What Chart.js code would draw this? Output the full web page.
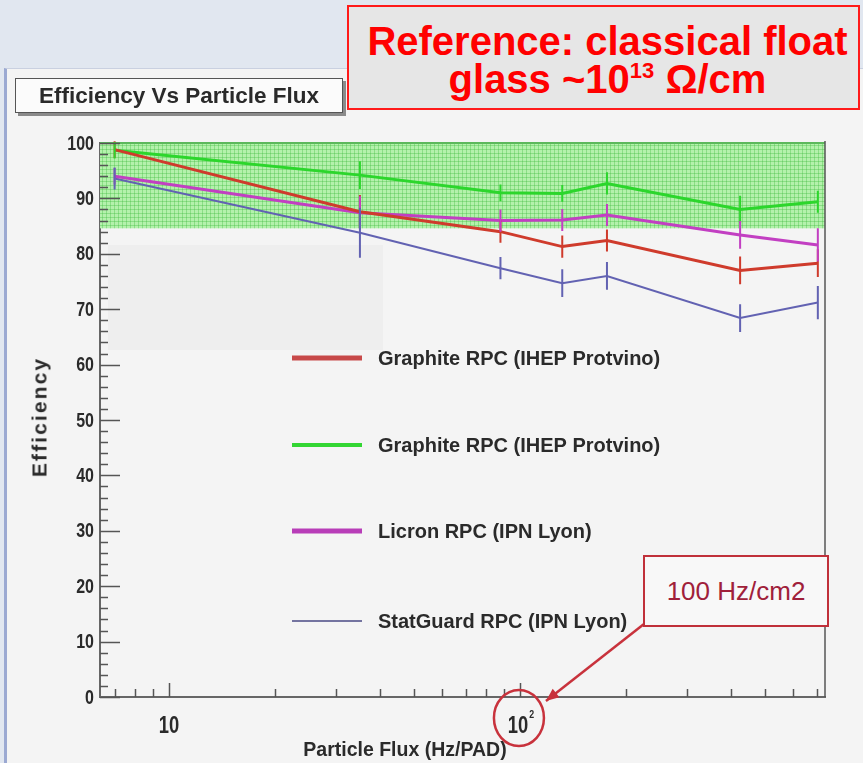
<!DOCTYPE html>
<html>
<head>
<meta charset="utf-8">
<script src="https://cdn.jsdelivr.net/npm/chart.js@4.4.1/dist/chart.umd.min.js"></script>
<style>
  html, body { margin: 0; padding: 0; }
  body {
    width: 863px; height: 763px; position: relative; overflow: hidden;
    background: #e1e7f0;
    font-family: "Liberation Sans", Arial, sans-serif;
  }
  #frame {
    position: absolute; left: 4px; top: 68px; right: 0; bottom: 0;
    background: #f4f4f4;
    border-left: 3px solid #9ba9d2; border-top: 1px solid #c9d0e0;
  }
  #plot { position: absolute; left: 0; top: 0; }
  #title {
    position: absolute; left: 15px; top: 78px; width: 326px; height: 33px;
    background: #fbfbfb; border: 1px solid #555; box-shadow: 3px 3px 0 #8a8a8a;
    font-weight: bold; font-size: 22.5px; line-height: 33px; color: #2a2a2a;
    text-align: center;
  }
  #glass {
    position: absolute; left: 347px; top: 5px; width: 513px; height: 105px;
    background: #e6e6e6; border: 2px solid #ff1a1a;
    color: #ff0000; font-weight: bold; font-size: 40px; line-height: 38px;
    text-align: center; padding-top: 15px; padding-left: 8px; box-sizing: border-box;
  }
  #glass sup { font-size: 22px; vertical-align: 15px; line-height: 0; }
  #note {
    position: absolute; left: 643px; top: 555px; width: 182px; height: 68px;
    background: #f8f8f8; border: 2px solid #c0303a;
    color: #a0203a; font-size: 26px; line-height: 68px; text-align: center;
  }
  .axis-title { position: absolute; font-weight: bold; color: #2a2a2a; white-space: nowrap; }
  #ytitle {
    left: 40px; top: 417px; font-size: 20px; letter-spacing: 2px;
    transform: translate(-50%, -50%) rotate(-90deg) scaleX(1.05);
  }
  #xtitle { left: 405px; top: 749px; font-size: 19.5px; transform: translate(-50%, -50%); }
</style>
</head>
<body>
<div id="frame"></div>
<canvas id="plot" width="863" height="763"></canvas>
<div id="title">Efficiency Vs Particle Flux</div>
<div id="glass">Reference: classical float<br>glass ~10<sup>13</sup> Ω/cm</div>
<div id="note">100 Hz/cm2</div>
<div class="axis-title" id="ytitle">Efficiency</div>
<div class="axis-title" id="xtitle">Particle Flux (Hz/PAD)</div>
<script>
// particle flux points (Hz/PAD)
const flux = [7, 35, 88, 132, 177, 424, 706];

// efficiency (%) per detector
const graphiteRed   = [98.8, 87.6, 84.0, 81.3, 82.4, 77.0, 78.3];
const graphiteGreen = [98.7, 94.2, 91.0, 90.9, 92.7, 88.0, 89.4];
const licron        = [94.0, 87.4, 86.0, 86.1, 87.0, 83.4, 81.6];
const statguard     = [93.6, 83.8, 77.4, 74.7, 76.0, 68.4, 71.2];

// vertical error bars
const graphiteRedErr   = [1.5, 3, 2, 2, 2, 2.5, 2.5];
const graphiteGreenErr = [1.5, 2.5, 1.5, 1.5, 2, 2.5, 2];
const licronErr        = [1.5, 3, 2, 2, 2, 2.5, 3];
const statguardErr     = [2, 4.5, 2, 2.5, 2.5, 2.5, 3];

const seriesLabels = [
  'Graphite RPC (IHEP Protvino)',
  'Graphite RPC (IHEP Protvino)',
  'Licron RPC (IPN Lyon)',
  'StatGuard RPC (IPN Lyon)'
];

// float glass reference band (%)
const bandRange = [84.6, 100];

const xMin = 6.36, xMax = 740;
const yTickLabels = [0, 10, 20, 30, 40, 50, 60, 70, 80, 90, 100];
const xTickLabels = [10, 100];

function pts(ys) {
  return flux.map((f, i) => ({ x: f, y: ys[i] }));
}

function isWhole(v) {
  const m = v / Math.pow(10, Math.floor(Math.log10(v) + 1e-9));
  return Math.abs(m - Math.round(m)) < 1e-6;
}

// condensed bold text, like the ROOT axis labels
function narrowText(ctx, text, x, y, size, align) {
  ctx.save();
  ctx.translate(x, y);
  ctx.scale(0.8, 1);
  ctx.font = 'bold ' + size + 'px "Liberation Sans", Arial';
  ctx.textAlign = align;
  ctx.textBaseline = 'middle';
  ctx.fillText(text, 0, 0);
  const w = ctx.measureText(text).width * 0.8;
  ctx.restore();
  return w;
}

const bandPlugin = {
  id: 'band',
  beforeDatasetsDraw(chart) {
    const { ctx, chartArea: a, scales: { y } } = chart;
    ctx.save();
    // pale panel under the upper-left part of the plot
    ctx.fillStyle = '#eeeeee';
    ctx.fillRect(a.left + 8, 245, 383 - a.left - 8, 105);

    const top = y.getPixelForValue(bandRange[1]);
    const bot = y.getPixelForValue(bandRange[0]);
    ctx.fillStyle = '#b4f1ac';
    ctx.fillRect(a.left, top, a.right - a.left, bot - top);
    ctx.strokeStyle = 'rgba(60,185,60,0.35)';
    ctx.lineWidth = 1;
    ctx.beginPath();
    for (let px = a.left + 2; px < a.right; px += 4) {
      ctx.moveTo(px + 0.5, top); ctx.lineTo(px + 0.5, bot);
    }
    for (let py = top + 2; py < bot; py += 4) {
      ctx.moveTo(a.left, py + 0.5); ctx.lineTo(a.right, py + 0.5);
    }
    ctx.stroke();
    ctx.strokeStyle = '#5cb85c';
    ctx.lineWidth = 2;
    ctx.beginPath();
    ctx.moveTo(a.left, top); ctx.lineTo(a.right, top);
    ctx.stroke();
    ctx.restore();
  },
  afterDatasetsDraw(chart) {
    const { ctx, scales: { y } } = chart;
    ctx.save();
    chart.data.datasets.forEach((ds, di) => {
      const meta = chart.getDatasetMeta(di);
      ctx.strokeStyle = ds.borderColor;
      ctx.lineWidth = 2;
      ctx.beginPath();
      meta.data.forEach((p, i) => {
        const e = ds.errors[i];
        ctx.moveTo(p.x, y.getPixelForValue(ds.data[i].y + e));
        ctx.lineTo(p.x, y.getPixelForValue(ds.data[i].y - e));
      });
      ctx.stroke();
    });
    ctx.restore();
  },
  afterDraw(chart) {
    const { ctx, chartArea: a, scales: { x, y } } = chart;
    ctx.save();
    // inward tick marks
    ctx.strokeStyle = '#555';
    ctx.lineWidth = 1.5;
    ctx.beginPath();
    y.ticks.forEach(t => {
      const py = Math.round(y.getPixelForValue(t.value)) + 0.5;
      const len = t.value % 10 === 0 ? 20 : 8;
      ctx.moveTo(a.left, py); ctx.lineTo(a.left + len, py);
    });
    x.ticks.forEach(t => {
      if (!isWhole(t.value)) return;
      const px = Math.round(x.getPixelForValue(t.value)) + 0.5;
      const len = Math.abs(Math.log10(t.value) % 1) < 1e-6 ? 14 : 8;
      ctx.moveTo(px, a.bottom); ctx.lineTo(px, a.bottom - len);
    });
    // right frame edge
    ctx.moveTo(a.right, y.getPixelForValue(bandRange[1]) - 2);
    ctx.lineTo(a.right, a.bottom);
    ctx.stroke();

    // tick labels
    ctx.fillStyle = '#2a2a2a';
    y.ticks.forEach(t => {
      if (!yTickLabels.includes(t.value)) return;
      narrowText(ctx, String(t.value), a.left - 6, y.getPixelForValue(t.value) + 1, 20, 'right');
    });
    xTickLabels.forEach(v => {
      const px = x.getPixelForValue(v);
      const exp = Math.round(Math.log10(v));
      if (exp === 1) {
        narrowText(ctx, '10', px, a.bottom + 30, 23, 'center');
      } else {
        const w = narrowText(ctx, '10', px - 2, a.bottom + 30, 23, 'center');
        narrowText(ctx, String(exp), px - 2 + w / 2 + 1, a.bottom + 18, 11, 'left');
      }
    });

    // legend
    const rows = [358, 445, 531, 621];
    chart.data.datasets.forEach((ds, i) => {
      ctx.strokeStyle = ds.legendColor;
      ctx.lineWidth = ds.legendWidth;
      ctx.beginPath();
      ctx.moveTo(292, rows[i]); ctx.lineTo(362, rows[i]);
      ctx.stroke();
      ctx.fillStyle = '#2a2a2a';
      ctx.font = 'bold 20px "Liberation Sans", Arial';
      ctx.textAlign = 'left';
      ctx.textBaseline = 'middle';
      ctx.fillText(ds.label, 378, rows[i] + 1);
    });

    // circle round the 10^2 label and pointer from the note box
    const cx = x.getPixelForValue(100) - 1;
    const cy = a.bottom + 21;
    ctx.strokeStyle = '#c8323c';
    ctx.lineWidth = 2.5;
    ctx.beginPath();
    ctx.ellipse(cx, cy, 25, 28, 0, 0, Math.PI * 2);
    ctx.stroke();
    const sx = 644, sy = 624, ex = cx + 27, ey = a.bottom + 4;
    ctx.beginPath();
    ctx.moveTo(sx, sy); ctx.lineTo(ex, ey);
    ctx.stroke();
    const ang = Math.atan2(ey - sy, ex - sx);
    ctx.fillStyle = '#c8323c';
    ctx.beginPath();
    ctx.moveTo(ex, ey);
    ctx.lineTo(ex - 14 * Math.cos(ang - 0.4), ey - 14 * Math.sin(ang - 0.4));
    ctx.lineTo(ex - 14 * Math.cos(ang + 0.4), ey - 14 * Math.sin(ang + 0.4));
    ctx.closePath();
    ctx.fill();
    ctx.restore();
  }
};

new Chart(document.getElementById('plot'), {
  type: 'line',
  data: {
    datasets: [
      { label: seriesLabels[0], data: pts(graphiteRed), errors: graphiteRedErr,
        borderColor: '#cf3b2c', borderWidth: 3, legendColor: '#c84a4a', legendWidth: 5 },
      { label: seriesLabels[1], data: pts(graphiteGreen), errors: graphiteGreenErr,
        borderColor: '#2cd62c', borderWidth: 3, legendColor: '#33d633', legendWidth: 4 },
      { label: seriesLabels[2], data: pts(licron), errors: licronErr,
        borderColor: '#c23fc2', borderWidth: 3, legendColor: '#b83db8', legendWidth: 5 },
      { label: seriesLabels[3], data: pts(statguard), errors: statguardErr,
        borderColor: '#6262b2', borderWidth: 2, legendColor: '#7474a0', legendWidth: 2 }
    ]
  },
  options: {
    responsive: false,
    devicePixelRatio: 1,
    animation: false,
    elements: { point: { radius: 0 }, line: { tension: 0 } },
    layout: { padding: { top: 143, right: 38, left: 0, bottom: 0 } },
    plugins: { legend: { display: false }, title: { display: false }, tooltip: { enabled: false } },
    scales: {
      x: {
        type: 'logarithmic',
        min: xMin, max: xMax,
        grid: { display: false, drawTicks: false },
        border: { display: true, color: '#666', width: 2 },
        ticks: { display: false, autoSkip: false },
        afterFit: s => { s.height = 66; }
      },
      y: {
        min: 0, max: 100,
        grid: { display: false, drawTicks: false },
        border: { display: true, color: '#666', width: 2 },
        ticks: { display: false, stepSize: 2, autoSkip: false },
        afterFit: s => { s.width = 100; }
      }
    }
  },
  plugins: [bandPlugin]
});
</script>
</body>
</html>
